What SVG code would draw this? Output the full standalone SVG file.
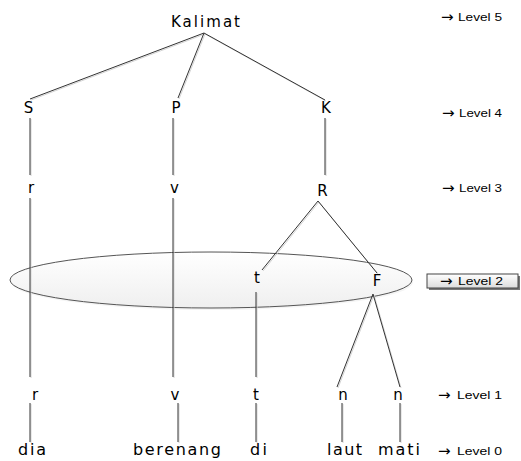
<svg xmlns="http://www.w3.org/2000/svg" width="521" height="461" viewBox="0 0 521 461">
<defs>
<linearGradient id="eg" x1="0" y1="0" x2="0" y2="1">
<stop offset="0" stop-color="#ffffff"/>
<stop offset="1" stop-color="#efefef"/>
</linearGradient>
<linearGradient id="bg" x1="0" y1="0" x2="0" y2="1">
<stop offset="0" stop-color="#ffffff"/>
<stop offset="1" stop-color="#dcdcdc"/>
</linearGradient>
<style>
.n{font-family:"DejaVu Sans",Verdana,sans-serif;font-size:15px;fill:#000;text-anchor:middle}
.w{font-family:"DejaVu Sans",Verdana,sans-serif;font-size:16px;fill:#000;text-anchor:middle}
.lv{font-family:"Liberation Sans",Arial,sans-serif;font-size:10px;fill:#000}
.ar{font-family:"DejaVu Sans",sans-serif;font-size:15px;fill:#000}
.c line{stroke:#333;stroke-width:1}
.s line{stroke:#d4d4d4;stroke-width:1}
</style>
</defs>
<rect width="521" height="461" fill="#fff"/>

<g id="level2-ellipse">
<ellipse cx="212" cy="282" rx="201" ry="28" fill="#ececec" opacity="0.6"/>
<ellipse cx="211" cy="280" rx="201" ry="28" fill="url(#eg)" stroke="#555" stroke-width="1"/>
</g>

<g id="connectors-shadow" class="s" transform="translate(1,1)">
<line x1="204" y1="33" x2="30" y2="99"/>
<line x1="204" y1="33" x2="178" y2="98"/>
<line x1="204" y1="33" x2="325" y2="100"/>
<line x1="30" y1="118" x2="30" y2="175"/>
<line x1="173" y1="118" x2="173" y2="175"/>
<line x1="325" y1="118" x2="325" y2="175"/>
<line x1="30" y1="198" x2="30" y2="377"/>
<line x1="173" y1="198" x2="173" y2="377"/>
<line x1="318" y1="201" x2="262" y2="270"/>
<line x1="318" y1="201" x2="377" y2="273"/>
<line x1="256" y1="292" x2="256" y2="377"/>
<line x1="373" y1="294" x2="337" y2="387"/>
<line x1="373" y1="294" x2="400" y2="387"/>
<line x1="30" y1="403" x2="30" y2="442"/>
<line x1="178" y1="403" x2="178" y2="442"/>
<line x1="256" y1="403" x2="256" y2="442"/>
<line x1="342" y1="403" x2="342" y2="442"/>
<line x1="400" y1="403" x2="400" y2="442"/>
</g>
<g id="connectors" class="c">
<line x1="204" y1="33" x2="30" y2="99"/>
<line x1="204" y1="33" x2="178" y2="98"/>
<line x1="204" y1="33" x2="325" y2="100"/>
<line x1="30" y1="118" x2="30" y2="175"/>
<line x1="173" y1="118" x2="173" y2="175"/>
<line x1="325" y1="118" x2="325" y2="175"/>
<line x1="30" y1="198" x2="30" y2="377"/>
<line x1="173" y1="198" x2="173" y2="377"/>
<line x1="318" y1="201" x2="262" y2="270"/>
<line x1="318" y1="201" x2="377" y2="273"/>
<line x1="256" y1="292" x2="256" y2="377"/>
<line x1="373" y1="294" x2="337" y2="387"/>
<line x1="373" y1="294" x2="400" y2="387"/>
<line x1="30" y1="403" x2="30" y2="442"/>
<line x1="178" y1="403" x2="178" y2="442"/>
<line x1="256" y1="403" x2="256" y2="442"/>
<line x1="342" y1="403" x2="342" y2="442"/>
<line x1="400" y1="403" x2="400" y2="442"/>
</g>

<g id="node-kalimat"><text class="n" x="205.5" y="27" textLength="69" lengthAdjust="spacing">Kalimat</text></g>
<g id="node-S"><text class="n" x="28.5" y="113">S</text></g>
<g id="node-P"><text class="n" x="176" y="113">P</text></g>
<g id="node-K"><text class="n" x="326" y="113">K</text></g>
<g id="node-r3"><text class="n" x="31" y="193">r</text></g>
<g id="node-v3"><text class="n" x="174.5" y="193">v</text></g>
<g id="node-R"><text class="n" x="322.5" y="196">R</text></g>
<g id="node-t2"><text class="n" x="257" y="283">t</text></g>
<g id="node-F"><text class="n" x="377" y="286">F</text></g>
<g id="node-r1"><text class="n" x="35" y="400">r</text></g>
<g id="node-v1"><text class="n" x="175" y="400">v</text></g>
<g id="node-t1"><text class="n" x="256" y="400">t</text></g>
<g id="node-n1"><text class="n" x="343" y="400">n</text></g>
<g id="node-n2"><text class="n" x="398" y="400">n</text></g>
<g id="node-dia"><text class="w" x="32" y="455" textLength="28" lengthAdjust="spacing">dia</text></g>
<g id="node-berenang"><text class="w" x="177" y="455" textLength="88" lengthAdjust="spacing">berenang</text></g>
<g id="node-di"><text class="w" x="258.5" y="455" textLength="17" lengthAdjust="spacing">di</text></g>
<g id="node-laut"><text class="w" x="344.5" y="455" textLength="35" lengthAdjust="spacing">laut</text></g>
<g id="node-mati"><text class="w" x="399" y="455" textLength="42" lengthAdjust="spacing">mati</text></g>

<g id="label-level5"><text class="ar" x="441" y="22">→</text><text class="lv" x="458" y="21" textLength="44" lengthAdjust="spacingAndGlyphs">Level 5</text></g>
<g id="label-level4"><text class="ar" x="442" y="118">→</text><text class="lv" x="459" y="117" textLength="43" lengthAdjust="spacingAndGlyphs">Level 4</text></g>
<g id="label-level3"><text class="ar" x="442" y="193">→</text><text class="lv" x="459" y="192" textLength="43" lengthAdjust="spacingAndGlyphs">Level 3</text></g>
<g id="label-level2">
<rect x="429" y="276" width="91" height="14" fill="#777"/>
<rect x="427" y="274" width="91" height="14" fill="url(#bg)" stroke="#444" stroke-width="1"/>
<text class="ar" x="440" y="286">→</text><text class="lv" x="458" y="285" textLength="45" lengthAdjust="spacingAndGlyphs">Level 2</text>
</g>
<g id="label-level1"><text class="ar" x="438" y="400">→</text><text class="lv" x="457" y="399" textLength="45" lengthAdjust="spacingAndGlyphs">Level 1</text></g>
<g id="label-level0"><text class="ar" x="438" y="456">→</text><text class="lv" x="457" y="455" textLength="45" lengthAdjust="spacingAndGlyphs">Level 0</text></g>
</svg>
